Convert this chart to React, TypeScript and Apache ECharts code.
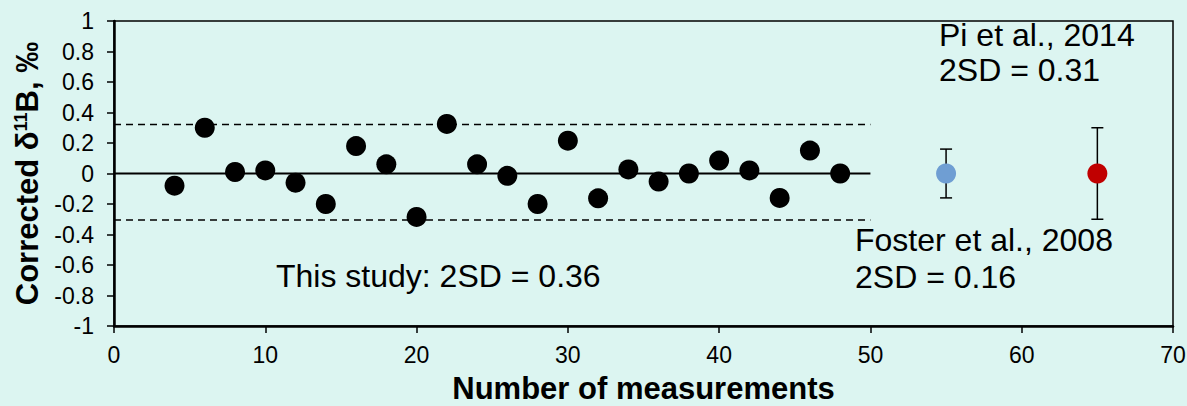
import React, { useEffect, useRef } from "react";
import * as echarts from "echarts";

const measurementX = [4, 6, 8, 10, 12, 14, 16, 18, 20, 22, 24, 26, 28, 30, 32, 34, 36, 38, 40, 42, 44, 46, 48];
const correctedValues = [-0.08, 0.3, 0.01, 0.02, -0.06, -0.2, 0.18, 0.06, -0.285, 0.325, 0.06, -0.015, -0.2, 0.215, -0.163, 0.027, -0.053, 0.0, 0.085, 0.02, -0.16, 0.15, 0.0];
const upperLimit = 0.322;
const lowerLimit = -0.305;
const studyRangeX = [0, 50];
const referenceX = [55, 65];
const referenceY = [0, 0];
const referenceErr = [0.16, 0.3];
const referenceColors = ["#6f9ed3", "#c00000"];

const FONT = "'Liberation Sans', Arial, sans-serif";

export default function App() {
  const ref = useRef<HTMLDivElement>(null);
  useEffect(() => {
    document.body.style.margin = "0";
    const chart = echarts.init(ref.current!, null, { renderer: "svg" });
    const scatterData = measurementX.map((x, i) => [x, correctedValues[i]]);
    const refData = referenceX.map((x, i) => ({
      value: [x, referenceY[i]],
      itemStyle: { color: referenceColors[i], opacity: 1 },
    }));
    const errData = referenceX.map((x, i) => [x, referenceY[i], referenceErr[i]]);
    const textStyle = { fontFamily: FONT, fontSize: 32, fill: "#000" };
    chart.setOption({
      animation: false,
      backgroundColor: "#dcf5f1",
      textStyle: { fontFamily: FONT },
      grid: {
        left: 114,
        right: 14,
        top: 21,
        bottom: 80,
        outerBoundsMode: "none",
        containLabel: false,
        show: true,
        borderColor: "#000",
        borderWidth: 1.5,
        backgroundColor: "transparent",
      },
      xAxis: {
        type: "value",
        min: 0,
        max: 70,
        interval: 10,
        splitLine: { show: false },
        axisLine: { show: true, onZero: false, lineStyle: { color: "#000", width: 2.5 } },
        axisTick: { show: true, length: 7, lineStyle: { color: "#000", width: 1.5 } },
        axisLabel: { color: "#000", fontSize: 23, margin: 17, fontFamily: FONT },
        name: "Number of measurements",
        nameLocation: "middle",
        nameGap: 47,
        nameTextStyle: { color: "#000", fontSize: 31, fontWeight: "bold", fontFamily: FONT, lineHeight: 31 },
      },
      yAxis: {
        type: "value",
        min: -1,
        max: 1,
        interval: 0.2,
        splitLine: { show: false },
        axisLine: { show: true, onZero: false, lineStyle: { color: "#000", width: 2.5 } },
        axisTick: { show: true, length: 7, lineStyle: { color: "#000", width: 1.5 } },
        axisLabel: {
          color: "#000",
          fontSize: 23,
          margin: 20,
          fontFamily: FONT,
          formatter: (v: number) => String(Math.round(v * 10) / 10),
        },
        name: "{b|Corrected δ}{s|11}{b|B, ‰}",
        nameLocation: "middle",
        nameGap: 70,
        nameTextStyle: {
          color: "#000",
          fontFamily: FONT,
          rich: {
            b: { fontSize: 31, fontWeight: "bold", fontFamily: FONT, color: "#000" },
            s: { fontSize: 18, fontWeight: "bold", fontFamily: FONT, color: "#000", verticalAlign: "top" },
          },
        },
      },
      series: [
        {
          type: "line",
          data: studyRangeX.map((x) => [x, upperLimit]),
          symbol: "none",
          lineStyle: { color: "#000", width: 1.5, type: [7, 5] },
          z: 1,
        },
        {
          type: "line",
          data: studyRangeX.map((x) => [x, lowerLimit]),
          symbol: "none",
          lineStyle: { color: "#000", width: 1.5, type: [7, 5] },
          z: 1,
        },
        {
          type: "line",
          data: studyRangeX.map((x) => [x, 0]),
          symbol: "none",
          lineStyle: { color: "#000", width: 2 },
          z: 1,
        },
        {
          type: "custom",
          data: errData,
          z: 2,
          renderItem: (params: any, api: any) => {
            const x = api.value(0);
            const y = api.value(1);
            const e = api.value(2);
            const top = api.coord([x, y + e]);
            const bot = api.coord([x, y - e]);
            const hw = 6;
            const style = { stroke: "#000", lineWidth: 1.5 };
            return {
              type: "group",
              children: [
                { type: "line", shape: { x1: top[0], y1: top[1], x2: bot[0], y2: bot[1] }, style },
                { type: "line", shape: { x1: top[0] - hw, y1: top[1], x2: top[0] + hw, y2: top[1] }, style },
                { type: "line", shape: { x1: bot[0] - hw, y1: bot[1], x2: bot[0] + hw, y2: bot[1] }, style },
              ],
            };
          },
        },
        {
          type: "scatter",
          data: scatterData,
          symbolSize: 20,
          itemStyle: { color: "#000", opacity: 1 },
          z: 3,
        },
        {
          type: "scatter",
          data: refData,
          symbolSize: 20,
          itemStyle: { opacity: 1 },
          z: 3,
        },
      ],
      graphic: [
        { type: "text", left: 276, top: 260, style: { ...textStyle, text: "This study: 2SD = 0.36" } },
        { type: "text", left: 939, top: 19, style: { ...textStyle, text: "Pi et al., 2014" } },
        { type: "text", left: 939, top: 54, style: { ...textStyle, text: "2SD = 0.31" } },
        { type: "text", left: 855, top: 224, style: { ...textStyle, text: "Foster et al., 2008" } },
        { type: "text", left: 855, top: 261, style: { ...textStyle, text: "2SD = 0.16" } },
      ],
    });
    return () => chart.dispose();
  }, []);
  return <div ref={ref} style={{ width: 1187, height: 406 }} />;
}
